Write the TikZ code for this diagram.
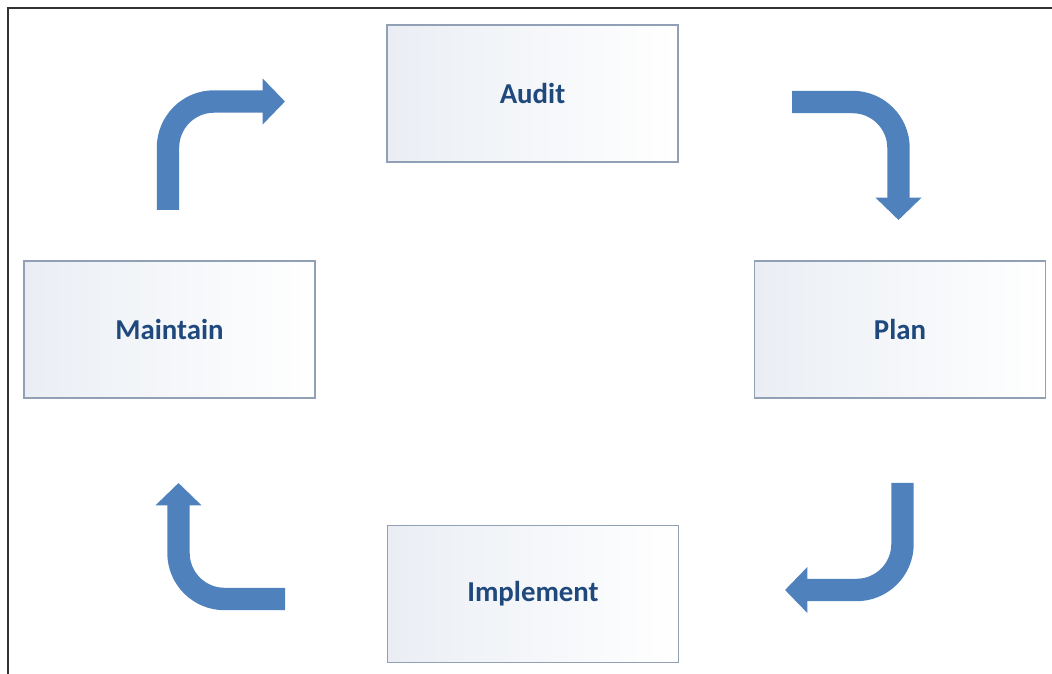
\documentclass[tikz,border=0pt]{standalone}
\usepackage{fontspec}
\setmainfont{Carlito}
\usepackage{tikz}
\usepackage{xcolor}
\usetikzlibrary{arrows.meta,positioning,calc}
\definecolor{ArrowBlue}{RGB}{79,129,189}
\definecolor{BoxEdge}{RGB}{145,160,180}
\definecolor{BoxTint}{RGB}{234,238,244}
\definecolor{TextBlue}{RGB}{31,73,125}

\begin{document}
\begin{tikzpicture}[x=0.025cm, y=-0.025cm, every node/.style={font=\bfseries\fontsize{20.5}{24}\selectfont},
  stage/.style={draw=BoxEdge, line width=0.9pt, left color=BoxTint, right color=white, text=TextBlue, minimum width=7.275cm, minimum height=3.425cm},
  turn/.style={draw=ArrowBlue, line width=0.56cm, rounded corners=1.15cm, -{Triangle[length=0.56cm, width=1.12cm]}}]
\useasboundingbox (0,0) rectangle (1052,674);
\draw[line width=1.2pt, draw=black!80] (8,674) -- (8,8) -- (1052,8);

\node[stage] (audit) at (532.5,93.5) {Audit};
\node[stage] (plan) at (900,329.5) {Plan};
\node[stage] (implement) at (533,594) {Implement};
\node[stage] (maintain) at (169.5,329.5) {Maintain};

\coordinate (t1s) at (168,210);
\coordinate (t1e) at (285,101.5);
\coordinate (t2s) at (792,102);
\coordinate (t2e) at (898.5,220);
\coordinate (t3s) at (902.5,483);
\coordinate (t3e) at (785,590);
\coordinate (t4s) at (285,599);
\coordinate (t4e) at (178.5,483);

\draw[turn] (t1s) |- (t1e);
\draw[turn] (t2s) -| (t2e);
\draw[turn] (t3s) |- (t3e);
\draw[turn] (t4s) -| (t4e);
\end{tikzpicture}
\end{document}
